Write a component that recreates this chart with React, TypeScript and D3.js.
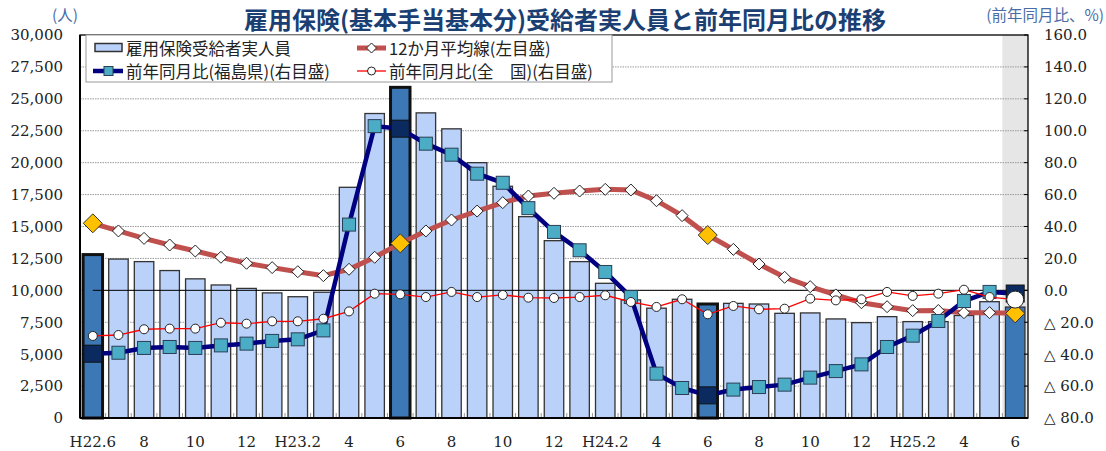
import React from "react";
import * as d3 from "d3";

const categories = [
  "H22.6","H22.7","H22.8","H22.9","H22.10","H22.11","H22.12",
  "H23.1","H23.2","H23.3","H23.4","H23.5","H23.6","H23.7","H23.8","H23.9","H23.10","H23.11","H23.12",
  "H24.1","H24.2","H24.3","H24.4","H24.5","H24.6","H24.7","H24.8","H24.9","H24.10","H24.11","H24.12",
  "H25.1","H25.2","H25.3","H25.4","H25.5","H25.6",
];
const tickLabels = [
  "H22.6","","8","","10","","12",
  "","H23.2","","4","","6","","8","","10","","12",
  "","H24.2","","4","","6","","8","","10","","12",
  "","H25.2","","4","","6",
];
const recipients = [
  12800,12450,12250,11550,10900,10420,10150,
  9800,9500,9850,18070,23850,25900,23900,22650,20000,18150,15770,13890,
  12250,10550,9250,8600,9300,8930,8980,8930,8200,8230,7760,7470,
  7940,7550,7550,8030,9110,8690,
];
const movingAvg12 = [
  15250,14650,14070,13550,13080,12590,12120,
  11780,11460,11150,11650,12590,13680,14650,15510,16210,16870,17390,17600,
  17780,17910,17860,17020,15850,14330,13210,12060,11020,10290,9640,9030,
  8720,8410,8420,8250,8250,8200,
];
const yoyFukushima = [
  -39.7,-39.1,-36.1,-35.5,-36.1,-34.5,-33.4,
  -31.7,-30.7,-25.1,41.2,102.9,101.3,91.9,85.0,73.1,67.4,51.5,36.6,
  25.1,11.5,-4.2,-52.2,-61.2,-65.8,-62.2,-60.6,-59.1,-54.7,-50.6,-46.4,
  -35.5,-28.4,-19.2,-6.7,-1.0,-2.0,
];
const yoyNational = [
  -28.6,-28.0,-24.4,-24.0,-24.0,-20.3,-20.9,
  -19.4,-19.4,-17.8,-13.2,-2.1,-2.5,-4.2,-1.0,-4.2,-2.9,-4.6,-4.8,
  -4.2,-3.1,-7.3,-10.4,-5.6,-15.0,-9.8,-11.9,-11.5,-5.2,-6.3,-5.6,
  -1.0,-3.5,-2.1,0.4,-4.2,-5.8,
];
const highlightIdx = [0, 12, 24, 36];
const leftTicks = d3.range(0, 30001, 2500);
const rightTicks = d3.range(-80, 161, 20);

const W = 1106, H = 451;
const X0 = 80, X1 = 1028, Y0 = 35, Y1 = 418;
const numFont = "'DejaVu Serif', 'Liberation Serif', serif";
const jpFont = "'Noto Sans CJK JP', sans-serif";

export default function App() {
  const x = d3.scaleBand<string>().domain(categories).range([X0, X1]).paddingInner(0.24).paddingOuter(0.12);
  const band = d3.scaleBand<string>().domain(categories).range([X0, X1]);
  const yL = d3.scaleLinear().domain([0, 30000]).range([Y1, Y0]);
  const yR = d3.scaleLinear().domain([-80, 160]).range([Y1, Y0]);
  const cx = (i: number) => (band(categories[i]) as number) + band.bandwidth() / 2;
  const last = categories.length - 1;

  const avgLine = d3.line<number>().x((_, i) => cx(i)).y((d) => yL(d));
  const rLine = d3.line<number>().x((_, i) => cx(i)).y((d) => yR(d));

  const diamond = (x0: number, y0: number, r: number) =>
    `M${x0},${y0 - r}L${x0 + r},${y0}L${x0},${y0 + r}L${x0 - r},${y0}Z`;

  const rightFmt = (v: number) => (v < 0 ? `△ ${Math.abs(v).toFixed(1)}` : v.toFixed(1));

  return (
    <svg width={W} height={H} style={{ position: "absolute", left: 0, top: 0, background: "#fff" }}>
      {/* title & units */}
      <text x={565} y={29} textAnchor="middle" fontFamily={jpFont} fontWeight="bold" fontSize={24} fill="#1B3F73">
        雇用保険(基本手当基本分)受給者実人員と前年同月比の推移
      </text>
      <text x={52} y={21} fontFamily={jpFont} fontSize={15.5} fill="#4A6DA7">(人)</text>
      <text x={1104} y={21} textAnchor="end" fontFamily={jpFont} fontSize={15.5} fill="#4A6DA7">(前年同月比、%)</text>

      {/* gray band for latest month */}
      <rect x={band(categories[last])} y={Y0} width={X1 - (band(categories[last]) as number)} height={Y1 - Y0} fill="#E6E6E6" />

      {/* gridlines */}
      {leftTicks.filter((t) => t > 0 && t < 30000).map((t) => (
        <line key={t} x1={X0} x2={X1} y1={yL(t)} y2={yL(t)} stroke="#9A9A9A" strokeWidth={1} strokeDasharray="1.5 1" />
      ))}

      {/* bars */}
      {recipients.map((v, i) => {
        const hl = highlightIdx.includes(i);
        const thick = hl && i !== last;
        return (
          <rect
            key={i}
            x={x(categories[i])}
            y={yL(v)}
            width={x.bandwidth()}
            height={Y1 - yL(v)}
            fill={hl ? "#3D78B6" : "#BAD1FA"}
            stroke={thick ? "#111" : "#333"}
            strokeWidth={thick ? 3 : 1.3}
          />
        );
      })}

      {/* x axis small ticks */}
      {categories.map((c, i) => i > 0 ? (
        <line key={c} x1={band(c)} x2={band(c)} y1={Y1} y2={Y1 - 5} stroke="#999" strokeWidth={1} />
      ) : null)}

      {/* zero line */}
      <line x1={cx(0)} x2={X1} y1={yR(0)} y2={yR(0)} stroke="#000" strokeWidth={1} />

      {/* 12-month moving average */}
      <path d={avgLine(movingAvg12) as string} fill="none" stroke="#C0504D" strokeWidth={5} />
      {movingAvg12.map((v, i) => highlightIdx.includes(i) ? (
        <path key={i} d={diamond(cx(i), yL(v), 9.5)} fill="#FFC000" stroke="#333" strokeWidth={1} />
      ) : (
        <path key={i} d={diamond(cx(i), yL(v), 6)} fill="#fff" stroke="#222" strokeWidth={1} />
      ))}

      {/* Fukushima YoY */}
      <path d={rLine(yoyFukushima) as string} fill="none" stroke="#000080" strokeWidth={4.5} />
      {yoyFukushima.map((v, i) => highlightIdx.includes(i) ? (
        <rect key={i} x={cx(i) - 9} y={yR(v) - 8.5} width={18} height={17} fill="#0B2A60" stroke="#111" strokeWidth={1} />
      ) : (
        <rect key={i} x={cx(i) - 6.5} y={yR(v) - 6.5} width={13} height={13} fill="#4BACC6" stroke="#2A3F55" strokeWidth={1} />
      ))}

      {/* National YoY */}
      <path d={rLine(yoyNational) as string} fill="none" stroke="#FF0000" strokeWidth={1.3} />
      {yoyNational.map((v, i) => (
        <circle key={i} cx={cx(i)} cy={yR(v)} r={i === last ? 8.5 : 4.5} fill="#fff" stroke="#222" strokeWidth={1} />
      ))}

      {/* frame */}
      <rect x={X0} y={Y0} width={X1 - X0} height={Y1 - Y0} fill="none" stroke="#000" strokeWidth={1.3} />
      <line x1={X0} x2={X0} y1={Y0} y2={Y1} stroke="#000" strokeWidth={2} />
      <line x1={X0} x2={X1} y1={Y1} y2={Y1} stroke="#000" strokeWidth={2} />
      {rightTicks.map((t) => (
        <line key={t} x1={X1 - 4} x2={X1} y1={yR(t)} y2={yR(t)} stroke="#000" strokeWidth={1} />
      ))}

      {/* left axis labels */}
      {leftTicks.map((t) => (
        <text key={t} x={63} y={yL(t)} dy="0.36em" textAnchor="end" fontFamily={numFont} fontSize={15} fill="#222">
          {d3.format(",")(t)}
        </text>
      ))}
      {/* right axis labels */}
      {rightTicks.map((t) => (
        <text key={t} x={1044} y={yR(t)} dy="0.36em" textAnchor="start" fontFamily={numFont} fontSize={15} fill="#222">
          {rightFmt(t)}
        </text>
      ))}
      {/* x labels */}
      {tickLabels.map((l, i) => l ? (
        <text key={i} x={cx(i)} y={447} textAnchor="middle" fontFamily={numFont} fontSize={15} fill="#222">{l}</text>
      ) : null)}

      {/* legend */}
      <g>
        <rect x={86} y={35} width={526} height={47} fill="#fff" stroke="#999" strokeWidth={1} />
        <rect x={95} y={43.5} width={27} height={8} fill="#BAD1FA" stroke="#333" strokeWidth={1.5} />
        <text x={126} y={54.5} fontFamily={jpFont} fontSize={16.5} fill="#222">雇用保険受給者実人員</text>

        <line x1={357} x2={386} y1={48} y2={48} stroke="#C0504D" strokeWidth={5} />
        <path d={diamond(371.5, 48, 5)} fill="#fff" stroke="#222" strokeWidth={1} />
        <text x={389} y={54.5} fontFamily={jpFont} fontSize={16.5} fill="#222">12か月平均線(左目盛)</text>

        <line x1={93} x2={123} y1={71} y2={71} stroke="#000080" strokeWidth={4.5} />
        <rect x={104} y={66.5} width={9} height={9} fill="#4BACC6" stroke="#2A3F55" strokeWidth={1} />
        <text x={126} y={77.5} fontFamily={jpFont} fontSize={16.5} fill="#222">前年同月比(福島県)(右目盛)</text>

        <line x1={357} x2={386} y1={71} y2={71} stroke="#FF0000" strokeWidth={1.3} />
        <circle cx={371.5} cy={71} r={4} fill="#fff" stroke="#222" strokeWidth={1} />
        <text x={389} y={77.5} fontFamily={jpFont} fontSize={16.5} fill="#222">前年同月比(全　国)(右目盛)</text>
      </g>
    </svg>
  );
}
